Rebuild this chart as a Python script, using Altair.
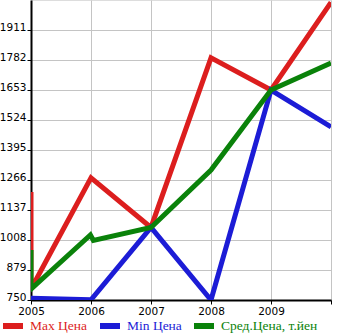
import altair as alt
import pandas as pd

series_names = ["Max Цена", "Min Цена", "Сред.Цена, т.йен"]
series_colors = ["#dc1e1e", "#1c1cd6", "#0a820a"]

max_x = [2005, 2005, 2006, 2007, 2008, 2009, 2010]
max_y = [1214, 797, 1275, 1062, 1791, 1653, 2030]

min_x = [2005, 2006, 2007, 2008, 2009, 2010]
min_y = [757, 751, 1062, 750, 1653, 1494]

avg_x = [2005, 2005, 2005.99, 2006.04, 2007, 2008, 2009, 2010]
avg_y = [965, 797, 1030, 1006, 1062, 1309, 1653, 1769]

y_ticks = [750, 879, 1008, 1137, 1266, 1395, 1524, 1653, 1782, 1911]
x_ticks = [2005, 2005.5, 2006, 2006.5, 2007, 2007.5, 2008, 2008.5, 2009, 2009.5, 2010]

rows = []
for name, xs, ys in zip(series_names, [max_x, min_x, avg_x], [max_y, min_y, avg_y]):
    for i, (xv, yv) in enumerate(zip(xs, ys)):
        rows.append({"series": name, "x": xv, "y": yv, "idx": i})
df = pd.DataFrame(rows)

label_color_expr = (
    f"datum.value == '{series_names[0]}' ? '{series_colors[0]}' : "
    f"datum.value == '{series_names[1]}' ? '{series_colors[1]}' : '{series_colors[2]}'"
)

chart = alt.Chart(df).mark_line(strokeWidth=5, clip=True).encode(
    x=alt.X("x:Q",
            scale=alt.Scale(domain=[2005, 2010], nice=False, zero=False),
            axis=alt.Axis(values=x_ticks, format="d", title=None,
                          labelExpr="datum.value % 1 == 0 && datum.value < 2010 ? datum.label : ''",
                          labelFont="DejaVu Sans", labelFontSize=10.5, labelColor="black",
                          labelPadding=2, tickSize=4, tickColor="black",
                          domainColor="black", domainWidth=2,
                          gridColor="#c4c4c4", gridWidth=1, labelFlush=False)),
    y=alt.Y("y:Q",
            scale=alt.Scale(domain=[750, 2040], nice=False, zero=False),
            axis=alt.Axis(values=y_ticks, format="d", title=None,
                          labelFont="DejaVu Sans", labelFontSize=10.5, labelColor="black",
                          labelBaseline="alphabetic", labelPadding=1, tickSize=4,
                          tickColor="black", domainColor="black", domainWidth=2,
                          gridColor="#c4c4c4", gridWidth=1)),
    color=alt.Color("series:N",
                    scale=alt.Scale(domain=series_names, range=series_colors),
                    legend=alt.Legend(orient="none", legendX=-31, legendY=313,
                                      direction="horizontal", title=None,
                                      symbolType="stroke", symbolSize=400,
                                      symbolStrokeWidth=6, gridAlign="none",
                                      labelFont="Liberation Serif", labelFontSize=13.5,
                                      labelColor={"expr": label_color_expr},
                                      labelOffset=4, columnPadding=0, padding=0)),
    order=alt.Order("idx:Q"),
    detail="series:N",
).properties(
    width=300, height=300,
    autosize=alt.AutoSizeParams(type="none"),
    padding={"left": 31, "top": 0, "right": 14, "bottom": 35},
).configure_view(
    fill="#f7f7f7", stroke=None
).configure(background="white")

chart.save("out.html", embed_options={"renderer": "svg", "actions": False})
